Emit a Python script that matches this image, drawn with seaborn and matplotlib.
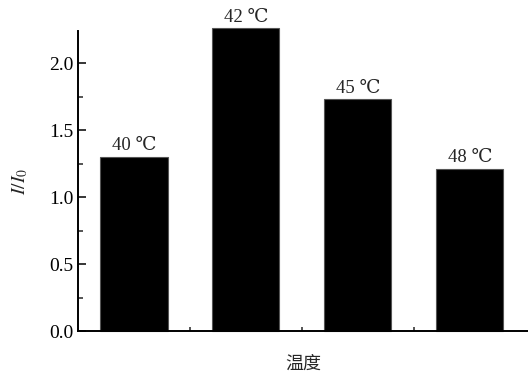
import matplotlib
matplotlib.use("Agg")
import matplotlib.pyplot as plt
import seaborn as sns
import pandas as pd
from matplotlib.ticker import MultipleLocator, FixedLocator, NullFormatter

# Data
temperatures = ["40 ℃", "42 ℃", "45 ℃", "48 ℃"]
ratios = [1.30, 2.26, 1.73, 1.21]
y_ticks = [0.0, 0.5, 1.0, 1.5, 2.0]

sns.set_theme(style="white")
plt.rcParams["font.family"] = ["Liberation Serif", "DejaVu Serif", "Noto Sans CJK SC"]
plt.rcParams["mathtext.fontset"] = "stix"

df = pd.DataFrame({"temp": temperatures, "ratio": ratios})

fig = plt.figure(figsize=(5.28, 3.81), dpi=100)
ax = fig.add_axes([78 / 528, 50 / 381, 450 / 528, 300 / 381])

sns.barplot(data=df, x="temp", y="ratio", color="black", saturation=1,
            width=0.6, edgecolor="#555555", linewidth=0.8, ax=ax)
for bar in ax.patches:
    bar.set_clip_on(False)

labels = ax.bar_label(ax.containers[0], labels=temperatures, padding=2, fontsize=13.5,
                      family=["Liberation Serif", "DejaVu Serif"])
for t in labels:
    t.set_clip_on(False)
    t.set_annotation_clip(False)

ax.set_xlim(-0.5, 3.52)
ax.set_ylim(0, 2.24)

ax.set_yticks(y_ticks)
ax.set_yticklabels([f"{v:.1f}" for v in y_ticks], fontsize=14)
ax.yaxis.set_minor_locator(MultipleLocator(0.25))

ax.set_xticks([])
ax.xaxis.set_minor_locator(FixedLocator([0.5, 1.5, 2.5]))
ax.xaxis.set_minor_formatter(NullFormatter())

ax.tick_params(axis="y", which="major", direction="in", length=6, width=1.1,
               left=True, pad=3, colors="black")
ax.tick_params(axis="y", which="minor", direction="in", length=3.5, width=1.1, left=True)
ax.tick_params(axis="x", which="minor", direction="in", length=3, width=1.1, bottom=True)

for side in ("top", "right"):
    ax.spines[side].set_visible(False)
for side in ("left", "bottom"):
    ax.spines[side].set_color("black")
    ax.spines[side].set_linewidth(1.4)

ax.set_ylabel(r"$I/I_0$", fontsize=14, labelpad=14)
ax.set_xlabel("温度", fontsize=13, family=["Noto Sans CJK SC"], labelpad=14)

fig.savefig("out.png", dpi=100)
